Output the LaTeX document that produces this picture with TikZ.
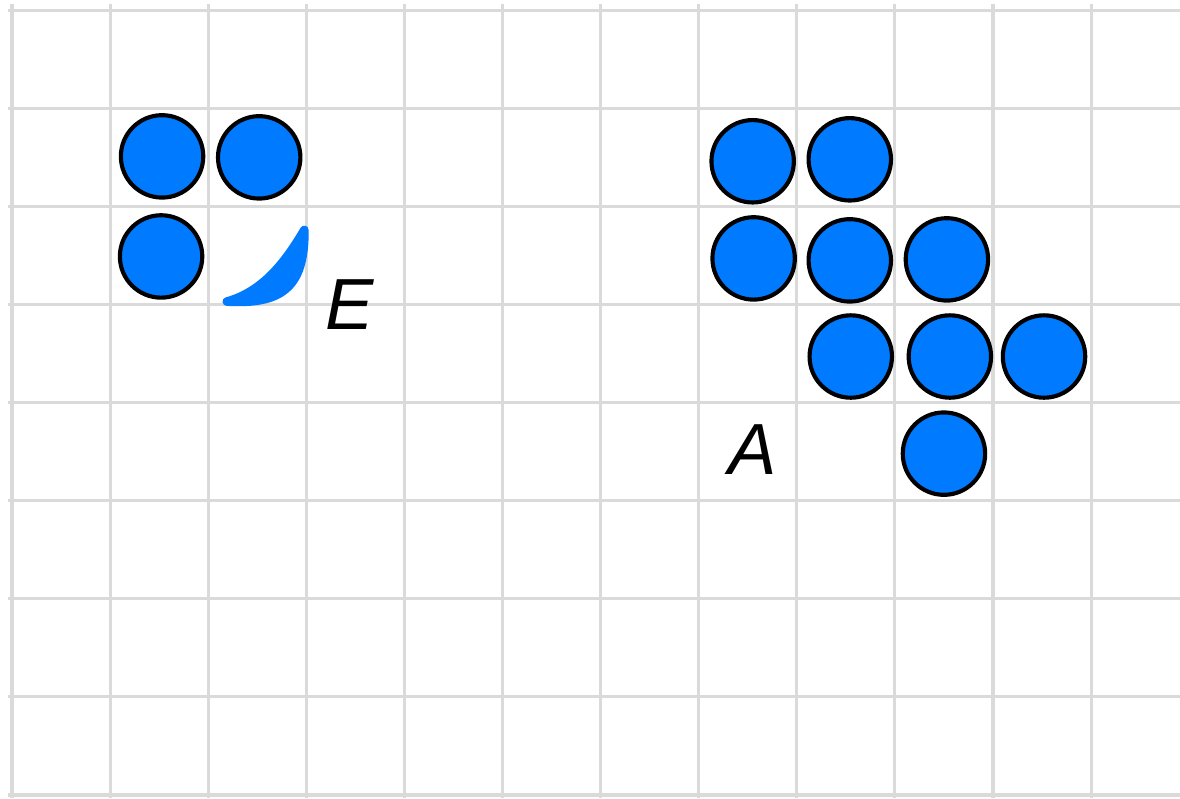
\documentclass[tikz,border=0pt]{standalone}
\usepackage{fontspec}
\setsansfont{Liberation Sans}
\usepackage{tikz}
\usetikzlibrary{positioning}
\definecolor{ballblue}{RGB}{0,122,255}
\definecolor{gridgray}{RGB}{218,218,218}

\begin{document}
\begin{tikzpicture}[
    ball/.style  ={circle, draw=black, line width=1.2pt, fill=ballblue,
                   minimum size=0.84cm, inner sep=0pt},
    gridln/.style={draw=gridgray, line width=0.9pt},
    lbl/.style   ={font=\sffamily\itshape\fontsize{21}{25}\selectfont,
                   inner sep=0pt},
  ]
  \useasboundingbox (-0.122,-0.031) rectangle (11.906,8.104);
  % grid
  \foreach \i in {0,...,11}
    \draw[gridln] (\i,-0.031) -- (\i,8.06);
  \foreach \j in {0,...,8}
    \draw[gridln] (-0.04,\j) -- (11.906,\j);
  % left group E
  \node[ball] (e1) at (1.53,6.51) {};
  \node[ball] (e2) at (2.52,6.50) {};
  \node[ball] (e3) at (1.52,5.49) {};
  \fill[ballblue, draw=ballblue, line width=2.5pt, line join=round]
    (2.19,5.03) .. controls (2.72,5.00) and (2.99,5.15) .. (2.98,5.76)
    .. controls (2.78,5.42) and (2.55,5.13) .. (2.19,5.03) -- cycle;
  \node[lbl] (labE) at (3.445,4.995) {E};
  % right group A
  \node[ball] (a1) at (7.55,6.46) {};
  \node[ball] (a2) at (8.54,6.48) {};
  \node[ball] (a3) at (7.56,5.47) {};
  \node[ball] (a4) at (8.54,5.45) {};
  \node[ball] (a5) at (9.53,5.46) {};
  \node[ball] (a6) at (8.55,4.47) {};
  \node[ball] (a7) at (9.56,4.47) {};
  \node[ball] (a8) at (10.52,4.47) {};
  \node[ball] (a9) at (9.50,3.48) {};
  \node[lbl] (labA) at (7.55,3.52) {A};
\end{tikzpicture}
\end{document}
